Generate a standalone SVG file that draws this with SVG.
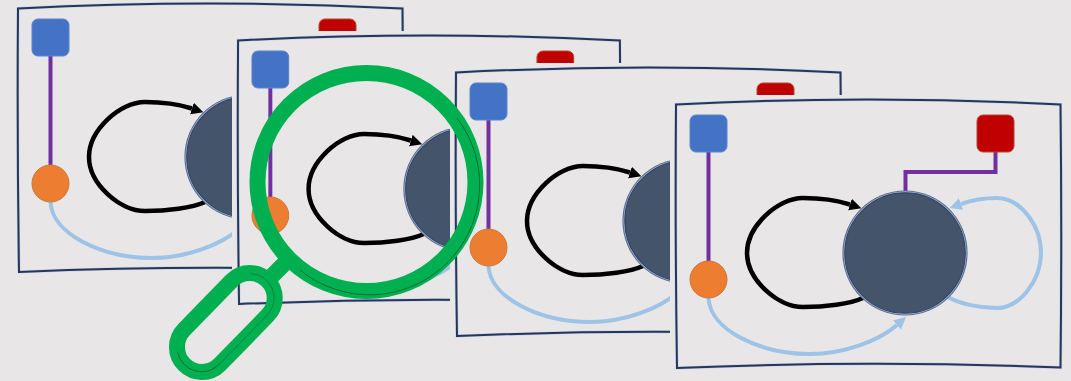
<svg xmlns="http://www.w3.org/2000/svg" width="1071" height="381" viewBox="0 0 1071 381">
  <style>
    .bg { fill: #E8E6E6; }
    .halo { fill: none; stroke: #C3D0E6; stroke-width: 3; }
    .frame { fill: none; stroke: #25375A; stroke-width: 2; }
    .purple { fill: none; stroke: #7030A0; stroke-width: 4; }
    .black { fill: none; stroke: #000; stroke-width: 4.500; }
    .sky { fill: none; stroke: #9DC3E6; stroke-width: 4; }
    .green { fill: none; stroke: #00B050; stroke-width: 16; }
    .thin { fill: none; stroke: #0B3D24; stroke-width: 0.600; }
    .faint { fill: none; stroke: #0B5D34; stroke-width: 0.500; }
    .blue { fill: #4472C4; stroke: #5B84CC; stroke-width: 1; }
    .red { fill: #C00000; stroke: #B5472F; stroke-width: 1; }
    .orange { fill: #ED7D31; stroke: #C9773A; stroke-width: 1; }
  </style>
  <defs>
    <marker id="arrow-black" markerUnits="userSpaceOnUse" markerWidth="14" markerHeight="14" refX="0" refY="6" orient="auto">
      <path d="M0,0 L12,6 L0,12 Z" fill="#000"/>
    </marker>
    <marker id="arrow-sky" markerUnits="userSpaceOnUse" markerWidth="14" markerHeight="14" refX="0" refY="6" orient="auto">
      <path d="M0,0 L12,6 L0,12 Z" fill="#9DC3E6"/>
    </marker>
  </defs>

  <rect class="bg" width="1071" height="381"/>

  <g id="panel-1"><use href="#panel-4-content" transform="translate(-658 -96)"/></g>
  <rect class="bg" x="232" y="31" width="839" height="350"/>
  <g id="panel-2"><use href="#panel-4-content" transform="matrix(0.993 0 0 1 -433.200 -64)"/></g>
  <rect class="bg" x="450" y="63" width="621" height="318"/>
  <g id="panel-3"><use href="#panel-4-content" transform="translate(-220 -32)"/></g>
  <rect class="bg" x="670" y="95" width="401" height="286"/>

  <g id="panel-4">
    <g id="panel-4-content">
      <g id="frame">
        <path class="halo" d="M676,104.500 Q868,94.500 1060.500,104.500 Q1062,236 1060.500,367.500 Q868,360 677,368 Q675,236 676,104.500 Z"/>
        <path class="frame" d="M676,104.500 Q868,94.500 1060.500,104.500 Q1062,236 1060.500,367.500 Q868,360 677,368 Q675,236 676,104.500 Z"/>
      </g>
      <g id="connectors">
        <path class="purple" d="M708.500,152 V261"/>
        <path class="purple" d="M995.500,152 V172 H905.500 V191"/>
        <path class="black" marker-end="url(#arrow-black)" d="M863,298 C850,304 825,307 803,307 C778,307 747,280 747,253 C747,226 778,198 803,198 C820,198 836,200 850,204.500"/>
        <path class="sky" marker-end="url(#arrow-sky)" d="M708.500,298 C710,330 760,354 810,354 C845,354 880,340 897,325"/>
        <path class="sky" marker-end="url(#arrow-sky)" d="M948,297 C960,304 980,308 997,308 C1020,308 1041,280 1041,253 C1041,225 1020,198 997,198 C985,198 972,200 961,204"/>
      </g>
      <g id="node-blue"><rect class="blue" x="690" y="115" width="37" height="37" rx="6"/></g>
      <g id="node-red"><rect class="red" x="977" y="115" width="37" height="37" rx="6"/></g>
      <g id="node-orange"><circle class="orange" cx="708.500" cy="279.500" r="18.500"/></g>
      <g id="node-hub">
        <circle cx="905" cy="253" r="62.600" fill="#5D7096"/>
        <circle cx="905" cy="253" r="61.400" fill="#B9C5D8"/>
        <circle cx="905" cy="253" r="60.200" fill="#44546A" stroke="#2F4468" stroke-width="1.200"/>
      </g>
    </g>
  </g>

  <g id="magnifier">
    <path class="green" d="M268,280 L290,258"/>
    <circle class="green" cx="366.500" cy="182" r="109"/>
    <path class="thin" d="M457,118 A110,110 0 0 1 300,270"/>
    <path class="green" d="M232,280.300 A25,25 0 0 1 267.400,315.700 L219.700,364.700 A25,25 0 0 1 184.300,329.300 Z"/>
    <path class="faint" d="M250,273.500 A24.500,24.500 0 0 1 267,315.300 L219.300,364.300"/>
    <path class="thin" d="M219.300,364.300 A24.500,24.500 0 0 1 177.600,352"/>
  </g>
</svg>
